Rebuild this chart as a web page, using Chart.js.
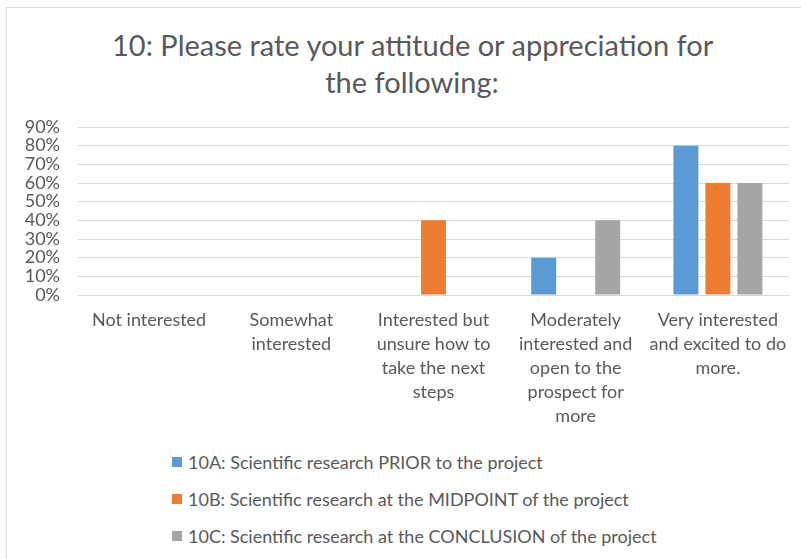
<!DOCTYPE html>
<html>
<head>
<meta charset="utf-8">
<script src="https://cdn.jsdelivr.net/npm/chart.js@4.4.1/dist/chart.umd.min.js"></script>
<style>
  html, body { margin: 0; padding: 0; background: #fff; overflow: hidden; }
  .frame {
    position: absolute; left: 6px; top: 7px; width: 820px; height: 600px;
    border: 1px solid #d9d9d9; box-sizing: border-box;
  }
  .title {
    position: absolute; left: 112px; top: 26px; width: 600px; text-align: center;
    font-family: Lato, "Open Sans", sans-serif; font-size: 29px; line-height: 37px; color: #595959;
    white-space: nowrap;
  }
  .chartBox { position: absolute; left: 7px; top: 0; width: 810px; height: 425px; }
  .legend {
    position: absolute; left: 172px; top: 443px;
    font-family: Lato, "Open Sans", sans-serif; font-size: 18px; color: #595959;
  }
  .legend .item { height: 37px; display: flex; align-items: center; white-space: nowrap; }
  .legend .box { width: 10px; height: 10px; margin-right: 6px; }
</style>
</head>
<body>
<div class="frame"></div>
<div class="title" id="title"></div>
<div class="chartBox"><canvas id="chart"></canvas></div>
<div class="legend" id="legend"></div>
<script>
// Datos del gráfico
const titleLines = ['10: Please rate your attitude or appreciation for', 'the following:'];
const categories = [
    ['Not interested'],
    ['Somewhat', 'interested'],
    ['Interested but', 'unsure how to', 'take the next', 'steps'],
    ['Moderately', 'interested and', 'open to the', 'prospect for', 'more'],
    ['Very interested', 'and excited to do', 'more.']
];
const seriesNames = [
    '10A: Scientific research PRIOR to the project',
    '10B: Scientific research at the MIDPOINT of the project',
    '10C: Scientific research at the CONCLUSION of the project'
];
const prior = [0, 0, 0, 20, 80];
const midpoint = [0, 0, 40, 0, 60];
const conclusion = [0, 0, 0, 40, 60];
const yTicks = [0, 10, 20, 30, 40, 50, 60, 70, 80, 90];

const colors = ['#5B9BD5', '#ED7D31', '#A5A5A5'];
const font = 'Lato, "Open Sans", sans-serif';

// Título en HTML, centrado sobre el área del gráfico
const titleEl = document.getElementById('title');
titleLines.forEach(line => {
    const div = document.createElement('div');
    div.textContent = line;
    titleEl.appendChild(div);
});

const ctx = document.getElementById('chart').getContext('2d');

let chart = new Chart(ctx, {
    type: 'bar',
    data: {
        labels: categories,
        datasets: [prior, midpoint, conclusion].map((d, i) => ({
            label: seriesNames[i],
            data: d,
            backgroundColor: colors[i],
            borderWidth: 0,
            categoryPercentage: 0.675,
            barPercentage: 0.78
        }))
    },
    options: {
        responsive: true,
        maintainAspectRatio: false,
        animation: false,
        layout: { padding: { top: 127, left: 0, right: 28, bottom: 0 } },
        plugins: {
            legend: { display: false },
            tooltip: { enabled: false },
            title: { display: false }
        },
        scales: {
            x: {
                afterFit: s => { s.height = 130; },
                grid: { display: false, drawTicks: false },
                border: { color: '#d9d9d9' },
                ticks: {
                    color: '#595959',
                    font: { family: font, size: 18, lineHeight: 1.333 },
                    maxRotation: 0,
                    autoSkip: false,
                    padding: 13
                }
            },
            y: {
                min: 0,
                max: 90,
                afterFit: s => { s.width = 71; },
                afterBuildTicks: s => { s.ticks = yTicks.map(v => ({ value: v })); },
                grid: { color: '#d9d9d9', drawTicks: false },
                border: { display: false },
                ticks: {
                    color: '#595959',
                    font: { family: font, size: 18 },
                    autoSkip: false,
                    padding: 18,
                    callback: v => v + '%'
                }
            }
        }
    }
});

// Leyenda en HTML (alineada a la izquierda, como el original)
const legend = document.getElementById('legend');
chart.data.datasets.forEach(ds => {
    const item = document.createElement('div');
    item.className = 'item';
    const box = document.createElement('span');
    box.className = 'box';
    box.style.background = ds.backgroundColor;
    const text = document.createElement('span');
    text.textContent = ds.label;
    item.appendChild(box);
    item.appendChild(text);
    legend.appendChild(item);
});
</script>
</body>
</html>
